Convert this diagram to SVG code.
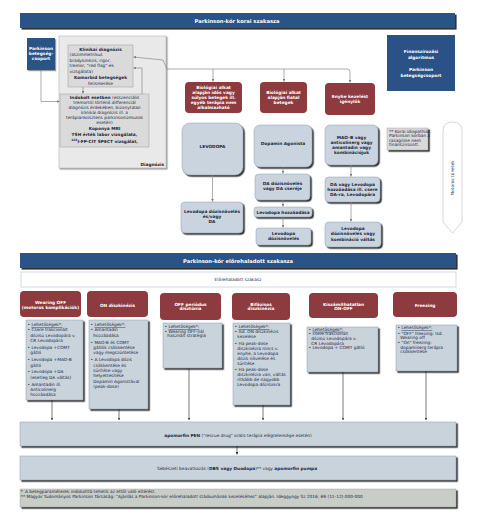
<svg xmlns="http://www.w3.org/2000/svg" width="484" height="524" viewBox="0 0 484 524">
<defs>
<style>
text{font-family:"DejaVu Sans",Verdana,sans-serif}
.hdr{fill:#2a5286}
.red{fill:#8d3b3f}
.lb{fill:#c9d4de;stroke:#8d9cab;stroke-width:.5}
.gb{fill:#c9d3dc;stroke:#8d9cab;stroke-width:.5}
.wt{fill:#fff;font-weight:bold;font-size:4.3px;text-anchor:middle}
.wh{fill:#fff;font-weight:bold;font-size:5.2px;text-anchor:middle}
.bc{fill:#1c2742;font-weight:bold;font-size:4.3px;text-anchor:middle}
.tx{fill:#1c2742;font-size:4.3px}
.tc{fill:#1c2742;font-size:4.3px;text-anchor:middle}
.b{font-weight:bold}
.u{text-decoration:underline}
.cn{fill:none;stroke:#8a8a8a;stroke-width:.7}
.ck{fill:none;stroke:#222;stroke-width:.6}
</style>
<filter id="sh" x="-10%" y="-10%" width="130%" height="140%"><feDropShadow dx="1.6" dy="1.6" stdDeviation="0.3" flood-color="#333"/></filter>
<filter id="ls" x="-10%" y="-10%" width="130%" height="140%"><feDropShadow dx="1.2" dy="1.2" stdDeviation="0.6" flood-color="#999"/></filter>
<marker id="ag" viewBox="0 0 6 6" refX="6" refY="3" markerWidth="4" markerHeight="4" orient="auto"><path d="M0,0L6,3L0,6z" fill="#777"/></marker>
<marker id="ak" viewBox="0 0 6 6" refX="6" refY="3" markerWidth="4" markerHeight="4" orient="auto"><path d="M0,0L6,3L0,6z" fill="#222"/></marker>
</defs>

<g id="hdr-early">
<rect x="20" y="13" width="435" height="15" class="hdr" filter="url(#sh)"/>
<text x="237" y="22.5" class="wh">Parkinson-kór korai szakasza</text>
</g>

<g id="diag-panel">
<rect x="59" y="36" width="107" height="132" fill="#e9e9e9" stroke="#c4c4c4" stroke-width=".8" filter="url(#ls)"/>
<text x="164" y="166" style="fill:#222;font-weight:bold;font-size:4.3px;text-anchor:end">Diagnózis</text>
</g>

<g id="pd-group">
<rect x="27" y="38" width="28" height="32" class="hdr" filter="url(#ls)"/>
<text x="41" y="49.8" class="wt">Parkinson</text>
<text x="41" y="54.8" class="wt">betegség-</text>
<text x="41" y="59.8" class="wt">csoport</text>
</g>

<g id="klinikai">
<rect x="68" y="45" width="65" height="42" fill="#dadada" stroke="#9a9a9a" stroke-width=".5"/>
<text x="100.5" y="50.5" class="bc">Klinikai diagnózis</text>
<text x="69.5" y="56" class="tx">(aszimmetrikus</text>
<text x="69.5" y="61.5" class="tx">bradykinézis, rigor,</text>
<text x="69.5" y="67" class="tx">tremor, "red flag"-ek</text>
<text x="69.5" y="72.5" class="tx">vizsgálata)</text>
<text x="100.5" y="79" class="bc">Komorbid betegségek</text>
<text x="100.5" y="84.5" class="tc">felismerése</text>
</g>

<g id="indokolt">
<rect x="60" y="94" width="89" height="53" fill="#dadada" stroke="#9a9a9a" stroke-width=".5"/>
<text x="104.5" y="99.2" class="tc"><tspan class="b">Indokolt esetben</tspan> (esszenciális</text>
<text x="104.5" y="104.2" class="tc">tremortól történő differenciál</text>
<text x="104.5" y="109.2" class="tc">diagnózis érdekében, bizonytalan</text>
<text x="104.5" y="114.2" class="tc">klinikai diagnózis ill. a</text>
<text x="104.5" y="119.2" class="tc">terápiarezisztens parkinsonizmusok</text>
<text x="104.5" y="124.2" class="tc">esetén)</text>
<text x="104.5" y="129.8" class="bc">Koponya MRI</text>
<text x="104.5" y="135.8" class="bc">TSH érték labor vizsgálata,</text>
<text x="104.5" y="143" class="bc"><tspan font-size="3px" dy="-2">123</tspan><tspan dy="2">I-FP-CIT SPECT vizsgálat,</tspan></text>
</g>

<g id="fin-algo">
<rect x="387" y="35" width="68" height="56" class="hdr"/>
<text x="421" y="53.2" class="wt">Finanszírozási</text>
<text x="421" y="58.8" class="wt">algoritmus</text>
<text x="421" y="70.8" class="wt">Parkinson</text>
<text x="421" y="76.5" class="wt">betegségcsoport</text>
</g>

<g id="r-idos">
<rect x="185" y="82" width="57" height="31" rx="4" class="red"/>
<text x="213.5" y="89.4" class="wt">Biológiai alkat</text>
<text x="213.5" y="94.2" class="wt">alapján idős vagy</text>
<text x="213.5" y="99" class="wt">súlyos betegek ill.</text>
<text x="213.5" y="103.8" class="wt">egyéb terápia nem</text>
<text x="213.5" y="108.6" class="wt">alkalmazható</text>
</g>
<g id="r-fiatal">
<rect x="260" y="82" width="47" height="31" rx="4" class="red"/>
<text x="283.5" y="94.2" class="wt">Biológiai alkat</text>
<text x="283.5" y="99" class="wt">alapján fiatal</text>
<text x="283.5" y="103.8" class="wt">betegek</text>
</g>
<g id="r-enyhe">
<rect x="325" y="83" width="50" height="32" rx="4" class="red"/>
<text x="350" y="98.1" class="wt">Enyhe kezelést</text>
<text x="350" y="102.9" class="wt">igénylők</text>
</g>

<g id="levodopa">
<rect x="182" y="123" width="61" height="52" rx="8" class="lb" filter="url(#sh)"/>
<text x="212.5" y="148" class="bc">LEVODOPA</text>
</g>
<g id="levodopa-dozis">
<rect x="181" y="202" width="62" height="31" rx="4" class="lb" filter="url(#sh)"/>
<text x="212" y="213.2" class="bc">Levodopa dózisnövelés</text>
<text x="212" y="218.2" class="bc">és/vagy</text>
<text x="212" y="223.2" class="bc">DA</text>
</g>
<g id="dopamin">
<rect x="254" y="125" width="58" height="42" rx="6" class="lb" filter="url(#sh)"/>
<text x="283" y="144.5" class="bc">Dopamin Agonista</text>
</g>
<g id="da-dozis">
<rect x="255" y="174" width="55" height="26" rx="4" class="lb" filter="url(#sh)"/>
<text x="282.5" y="184.8" class="bc">DA dózisnövelés</text>
<text x="282.5" y="189.8" class="bc">vagy DA cseréje</text>
</g>
<g id="levo-hozza">
<rect x="254" y="207" width="58" height="10" rx="3" class="lb" filter="url(#sh)"/>
<text x="283" y="213.6" class="bc">Levodopa hozzáadása</text>
</g>
<g id="levo-dozis2">
<rect x="256" y="228" width="55" height="17" rx="3" class="lb" filter="url(#sh)"/>
<text x="283.5" y="234.8" class="bc">Levodopa</text>
<text x="283.5" y="239.8" class="bc">dózisnövelés</text>
</g>
<g id="maob">
<rect x="325" y="125" width="53" height="40" rx="5" class="lb" filter="url(#sh)"/>
<text x="351.5" y="139" class="bc">MAO-B vagy</text>
<text x="351.5" y="144" class="bc">anticolinerg vagy</text>
<text x="351.5" y="149" class="bc">amantadin vagy</text>
<text x="351.5" y="154" class="bc">kombinációjuk</text>
</g>
<g id="da-levo">
<rect x="325" y="177" width="55" height="25" rx="4" class="lb" filter="url(#sh)"/>
<text x="352.5" y="185.5" class="bc">DA vagy Levodopa</text>
<text x="352.5" y="190.8" class="bc">hozzáadása ill. csere</text>
<text x="352.5" y="196.1" class="bc">DA-ra, Levodopára</text>
</g>
<g id="levo-komb">
<rect x="325" y="222" width="56" height="25" rx="4" class="lb" filter="url(#sh)"/>
<text x="353" y="230" class="bc">Levodopa</text>
<text x="353" y="235.3" class="bc">dózisnövelés vagy</text>
<text x="353" y="240.6" class="bc">kombináció váltás</text>
</g>
<g id="note-rasagiline">
<rect x="387" y="128" width="41" height="22" fill="#d9d9d9" stroke="#999" stroke-width=".4" filter="url(#sh)"/>
<text x="389" y="132.6" class="tx" font-size="3.9px">** Korai idiopathiás</text>
<text x="389" y="137.1" class="tx" font-size="3.9px">Parkinson kórban a</text>
<text x="389" y="141.6" class="tx" font-size="3.9px">rasagiline nem</text>
<text x="389" y="146.1" class="tx" font-size="3.9px">finanszírozott.</text>
</g>
<g id="motoros">
<path d="M443,131 Q443,122 452.5,122 Q462,122 462,131 L462,222 L452.5,233 L443,222 Z" fill="#fff" stroke="#bdbdbd" stroke-width=".6"/>
<text transform="translate(454,178) rotate(-90)" class="tc">Motoros tünetek</text>
</g>

<g id="hdr-adv">
<rect x="20" y="253" width="436" height="15" class="hdr" filter="url(#sh)"/>
<text x="238" y="262.5" class="wh">Parkinson-kór előrehaladott szakasza</text>
</g>
<g id="adv-label">
<rect x="21" y="272" width="435" height="15" fill="#fff" stroke="#b5c1cf" stroke-width=".6"/>
<text x="238" y="281.2" class="tc" font-size="3.9px">Előrehaladott szakasz</text>
</g>

<g id="wearing">
<rect x="20" y="291" width="61" height="26" rx="4" class="red"/>
<text x="50.5" y="304.2" class="wt" font-size="4.1px">Wearing OFF</text>
<text x="50.5" y="308.8" class="wt" font-size="4.1px">(motoros komplikációk)</text>
<rect x="26" y="320" width="57" height="80" class="gb" filter="url(#sh)"/>
<text x="27.5" y="326" class="tx">• <tspan class="u">Lehetőségek*:</tspan></text>
<text x="27.5" y="331.4" class="tx">• Csere frakcionált</text>
<text x="30.3" y="336.8" class="tx">dózisú Levodopára v.</text>
<text x="30.3" y="342.2" class="tx">CR Levodopára</text>
<text x="27.5" y="349" class="tx">• Levodopa +COMT</text>
<text x="30.3" y="354.4" class="tx">gátló</text>
<text x="27.5" y="361.2" class="tx">• Levodopa +MAO-B</text>
<text x="30.3" y="366.6" class="tx">gátló</text>
<text x="27.5" y="373.4" class="tx">• Levodopa +DA</text>
<text x="30.3" y="378.8" class="tx">(esetleg DA váltás)</text>
<text x="27.5" y="385.6" class="tx">• Amantadin ill.</text>
<text x="30.3" y="391" class="tx">Anticolinerg</text>
<text x="30.3" y="396.4" class="tx">hozzáadása</text>
</g>

<g id="on-diszk">
<rect x="87" y="291" width="61" height="26" rx="4" class="red"/>
<text x="117.5" y="306.5" class="wt">ON diszkinézis</text>
<rect x="89" y="320" width="59" height="89" class="gb" filter="url(#sh)"/>
<text x="90.5" y="326" class="tx">• <tspan class="u">Lehetőségek*:</tspan></text>
<text x="90.5" y="331.4" class="tx">• Amantadin</text>
<text x="93.3" y="336.8" class="tx">hozzáadása</text>
<text x="90.5" y="343.6" class="tx">• MAO-B és COMT</text>
<text x="93.3" y="349" class="tx">gátlók csökkentése</text>
<text x="93.3" y="354.4" class="tx">vagy megszüntetése</text>
<text x="90.5" y="361.2" class="tx">• A Levodopa dózis</text>
<text x="93.3" y="366.6" class="tx">csökkentése és</text>
<text x="93.3" y="372" class="tx">sűrítése vagy</text>
<text x="93.3" y="377.4" class="tx">helyettesítése</text>
<text x="93.3" y="382.8" class="tx">Dopamin Agonistával</text>
<text x="93.3" y="388.2" class="tx">(peak-dose)</text>
</g>

<g id="off-period">
<rect x="160" y="293" width="61" height="27" rx="4" class="red"/>
<text x="190.5" y="305.5" class="wt">OFF periódus</text>
<text x="190.5" y="309.8" class="wt">disztónia</text>
<rect x="163" y="323" width="59" height="45" class="gb" filter="url(#sh)"/>
<text x="164.5" y="328.2" class="tx">• <tspan class="u">Lehetőségek*:</tspan></text>
<text x="164.5" y="332.8" class="tx">• Wearing OFF-nál</text>
<text x="167.3" y="337.4" class="tx">használt stratégia</text>
</g>

<g id="bifazisos">
<rect x="232" y="293" width="58" height="27" rx="4" class="red"/>
<text x="261" y="305.5" class="wt">Bifázisos</text>
<text x="261" y="309.8" class="wt">diszkinézia</text>
<rect x="233" y="323" width="57" height="82" class="gb" filter="url(#sh)"/>
<text x="234.5" y="328" class="tx">• <tspan class="u">Lehetőségek*:</tspan></text>
<text x="234.5" y="333" class="tx">• lsd. ON diszkinézis</text>
<text x="237.3" y="338" class="tx">kezelése</text>
<text x="234.5" y="344.5" class="tx">• Ha peak-dose</text>
<text x="237.3" y="349.5" class="tx">diszkinézia nincs v.</text>
<text x="237.3" y="354.5" class="tx">enyhe, a Levodopa</text>
<text x="237.3" y="359.5" class="tx">dózis növelése és</text>
<text x="237.3" y="364.5" class="tx">sűrítése</text>
<text x="234.5" y="371" class="tx">• Ha peak-dose</text>
<text x="237.3" y="376" class="tx">diszkinézia van, váltás</text>
<text x="237.3" y="381" class="tx">ritkább de nagyobb</text>
<text x="237.3" y="386" class="tx">Levodopa dózisokra</text>
</g>

<g id="kiszam">
<rect x="309" y="293" width="69" height="25" rx="4" class="red"/>
<text x="343.5" y="305.5" class="wt">Kiszámíthatatlan</text>
<text x="343.5" y="310.2" class="wt">ON-OFF</text>
<rect x="307" y="327" width="71" height="45" class="gb" filter="url(#sh)"/>
<text x="308.5" y="330.8" class="tx">• <tspan class="u">Lehetőségek*:</tspan></text>
<text x="308.5" y="335.4" class="tx">• csere frakcionált</text>
<text x="311.3" y="340" class="tx">dózisú Levodopára v.</text>
<text x="311.3" y="344.6" class="tx">CR Levodopára</text>
<text x="308.5" y="349.2" class="tx">• Levodopa + COMT gátló</text>
</g>

<g id="freezing">
<rect x="393" y="292" width="64" height="25" rx="4" class="red"/>
<text x="425" y="306.5" class="wt">Freezing</text>
<rect x="396" y="325" width="61" height="46" class="gb" filter="url(#sh)"/>
<text x="397.5" y="329.2" class="tx">• <tspan class="u">Lehetőségek*:</tspan></text>
<text x="397.5" y="334.6" class="tx">• "OFF" freezing: lsd.</text>
<text x="400.3" y="339.2" class="tx">Wearing off</text>
<text x="397.5" y="344" class="tx">• "On" freezing:</text>
<text x="400.3" y="348.8" class="tx">dopaminerg terápia</text>
<text x="400.3" y="353.4" class="tx">csökkentése</text>
</g>

<g id="apomorfin-pen">
<rect x="20" y="422" width="436" height="24" class="gb" filter="url(#sh)"/>
<text x="238" y="436.5" class="tc"><tspan class="b">apomorfin PEN</tspan> ("rescue drug" oralis terápia elégtelensége esetén)</text>
</g>
<g id="sebeszeti">
<rect x="20" y="456" width="436" height="24" class="gb" filter="url(#sh)"/>
<text x="237" y="470" class="tc">Sebészeti beavatkozás (<tspan class="b">DBS vagy Duodopa</tspan>)** vagy <tspan class="b">apomorfin pumpa</tspan></text>
</g>
<g id="footnote">
<rect x="20" y="489" width="436" height="18" fill="#c9cdc8" stroke="#999" stroke-width=".4" filter="url(#sh)"/>
<text x="20.8" y="493.3" class="tx" font-size="3.9px">*<tspan x="25">A betegparaméterek indokolttá tehetik az ettől való eltérést.</tspan></text>
<text x="20.8" y="498.3" class="tx" font-size="3.9px">** Magyar Tudományos Parkinson Társaság: "Ajánlás a Parkinson-kór előrehaladott stádiumának kezeléséhez" alapján. Ideggyogy Sz 2016; 69 (11-12):000-000</text>
</g>

<g id="connectors">
<path class="cn" d="M41,70 L41,101.5 L59.5,101.5" marker-end="url(#ag)"/>
<path class="cn" d="M83,87 L83,93.5" marker-end="url(#ag)"/>
<path class="cn" d="M142,94 L142,68 L133.5,68" marker-end="url(#ag)"/>
<path class="cn" d="M167,69 L163,60 L133.5,57" marker-end="url(#ag)"/>
<path class="cn" d="M167,69 L347,69 Q350,69 350,72 L350,82.5" marker-end="url(#ag)"/>
<path class="cn" d="M213,69 L213,81.5" marker-end="url(#ag)"/>
<path class="cn" d="M284,69 L284,81.5" marker-end="url(#ag)"/>
<path class="cn" d="M212.5,175 L212.5,201.5" marker-end="url(#ag)"/>
<path class="cn" d="M283,167 L283,173.5" marker-end="url(#ag)"/>
<path class="cn" d="M283,200 L283,206.5" marker-end="url(#ag)"/>
<path class="cn" d="M283,217 L283,227.5" marker-end="url(#ag)"/>
<path class="cn" d="M351,165 L351,176.5" marker-end="url(#ag)"/>
<path class="cn" d="M351,202 L351,221.5" marker-end="url(#ag)"/>
<path class="ck" d="M52,400 L52,420" marker-end="url(#ak)"/>
<path class="ck" d="M119,409 L119,420" marker-end="url(#ak)"/>
<path class="ck" d="M189,368 L189,420" marker-end="url(#ak)"/>
<path class="ck" d="M263,405 L263,420" marker-end="url(#ak)"/>
<path class="ck" d="M343,372 L343,420" marker-end="url(#ak)"/>
<path class="ck" d="M426,371 L426,420" marker-end="url(#ak)"/>
<path class="ck" d="M237,446 L237,454.5" marker-end="url(#ak)"/>
</g>
</svg>
